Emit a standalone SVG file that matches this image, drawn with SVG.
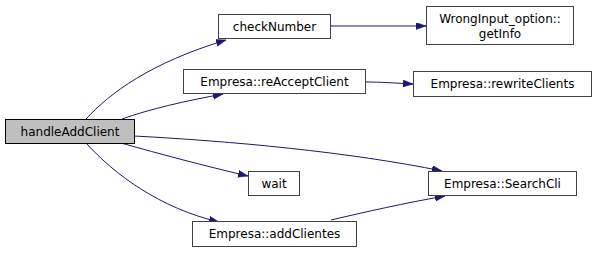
<svg xmlns="http://www.w3.org/2000/svg" width="597" height="253" viewBox="0 0 597 253">
  <style>
    .node rect { fill: #ffffff; stroke: #404040; stroke-width: 1; }
    .node.root rect { fill: #bfbfbf; stroke: #000000; }
    .node text { font-family: "DejaVu Sans", sans-serif; font-size: 12px; text-anchor: middle; fill: #000000; }
    .edge { fill: none; stroke: #191970; stroke-width: 1; }
  </style>
  <defs>
    <marker id="arrow" markerUnits="userSpaceOnUse" markerWidth="11" markerHeight="8" refX="10" refY="3.5" orient="auto">
      <path d="M0,0 L10,3.5 L0,7 Z" fill="#191970" stroke="#191970" stroke-width="0.5"/>
    </marker>
  </defs>
  <rect width="597" height="253" fill="#ffffff"/>

  <g id="connectors">
    <path class="edge" marker-end="url(#arrow)" d="M86,119 C110,93 150,63 226,40"/>
    <path class="edge" marker-end="url(#arrow)" d="M122,119 C150,109 185,101 223,94"/>
    <path class="edge" marker-end="url(#arrow)" d="M134,136 C230,141 350,152 442,171"/>
    <path class="edge" marker-end="url(#arrow)" d="M121,143 C160,154 205,166 248,176"/>
    <path class="edge" marker-end="url(#arrow)" d="M86,143 C115,175 160,208 219,222"/>
    <path class="edge" marker-end="url(#arrow)" d="M330.5,26 L426,26"/>
    <path class="edge" marker-end="url(#arrow)" d="M365.5,82 C380,82 395,83 413,84"/>
    <path class="edge" marker-end="url(#arrow)" d="M331,220 C365,212 405,203 445,196"/>
  </g>

  <g id="handleAddClient" class="node root">
    <rect x="5.5" y="119.5" width="129" height="24"/>
    <text x="70" y="135.5">handleAddClient</text>
  </g>
  <g id="checkNumber" class="node">
    <rect x="218.5" y="14.5" width="112" height="24"/>
    <text x="274.5" y="30.5">checkNumber</text>
  </g>
  <g id="WrongInput_option_getInfo" class="node">
    <rect x="426.5" y="6.5" width="147" height="38"/>
    <text x="500" y="22.5">WrongInput_option::</text>
    <text x="500" y="37.5">getInfo</text>
  </g>
  <g id="Empresa_reAcceptClient" class="node">
    <rect x="183.5" y="69.5" width="182" height="24"/>
    <text x="274.5" y="85.5">Empresa::reAcceptClient</text>
  </g>
  <g id="Empresa_rewriteClients" class="node">
    <rect x="413.5" y="71.5" width="178" height="25"/>
    <text x="502.5" y="88">Empresa::rewriteClients</text>
  </g>
  <g id="wait" class="node">
    <rect x="248.5" y="171.5" width="51" height="24"/>
    <text x="274" y="187.5">wait</text>
  </g>
  <g id="Empresa_SearchCli" class="node">
    <rect x="428.5" y="171.5" width="148" height="24"/>
    <text x="502.5" y="187.5">Empresa::SearchCli</text>
  </g>
  <g id="Empresa_addClientes" class="node">
    <rect x="192.5" y="221.5" width="164" height="25"/>
    <text x="274.5" y="238">Empresa::addClientes</text>
  </g>
</svg>
